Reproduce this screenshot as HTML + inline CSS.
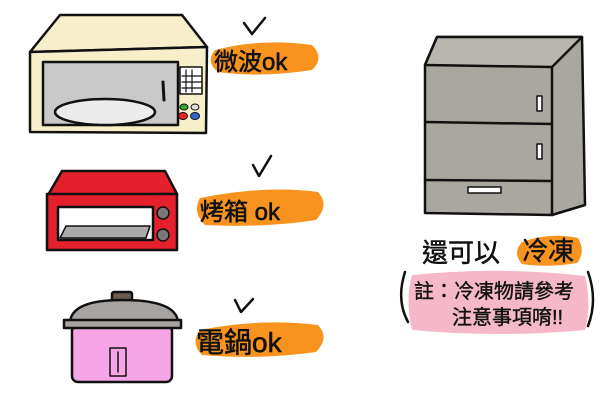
<!DOCTYPE html>
<html><head><meta charset="utf-8"><style>
html,body{margin:0;padding:0;background:#fff;width:600px;height:400px;overflow:hidden}
svg{display:block}
text{font-family:"Liberation Sans","Noto Sans CJK TC",sans-serif;fill:#111}
</style></head><body>
<svg width="600" height="400" viewBox="0 0 600 400" stroke="#111" stroke-width="2.5" stroke-linejoin="round" stroke-linecap="round">
<!-- microwave -->
<polygon points="30,52 60,15 182,15 207,47" fill="#f7efc9"/>
<polygon points="30,52 207,47 206,133 30,132" fill="#f7efc9"/>
<rect x="43" y="62" width="135" height="63" fill="#c9c9c9"/>
<ellipse cx="105" cy="112" rx="50" ry="13" fill="#ececec"/>
<line x1="163" y1="82" x2="164" y2="100" stroke-width="3"/>
<rect x="180" y="67" width="22" height="27" fill="#fff" stroke-width="1.5"/>
<path d="M186,70V92M192,70V92M182,76H201M182,82H201M182,88H201" stroke-width="1.2" fill="none"/>
<ellipse cx="184" cy="107" rx="4" ry="3" fill="#3a3" stroke-width="1"/>
<ellipse cx="195" cy="107" rx="4" ry="3" fill="#ddd" stroke-width="1"/>
<ellipse cx="183" cy="116" rx="4.5" ry="3.5" fill="#e22" stroke-width="1"/>
<ellipse cx="195" cy="116" rx="4.5" ry="3.5" fill="#36c" stroke-width="1"/>
<!-- label 1 -->
<path d="M215,50 Q260,38 312,45 Q325,58 312,70 Q260,78 218,72 Q205,62 215,50Z" fill="#f7931e" stroke="none"/>
<path d="M244,23 L252,34 L265,18" fill="none"/>
<text x="214" y="70" font-size="24" stroke="#111" stroke-width="0.6">微波ok</text>
<!-- toaster -->
<polygon points="48,195 62,171 165,171 177,194" fill="#e4202c"/>
<rect x="47" y="194" width="130" height="56" fill="#e4202c"/>
<rect x="58" y="207" width="95" height="33" fill="#fff"/>
<polygon points="60,238 66,226 150,226 146,238" fill="#aaa" stroke-width="1.5"/>
<circle cx="163" cy="213" r="6" fill="#777" stroke-width="1.5"/>
<circle cx="163" cy="235" r="6" fill="#777" stroke-width="1.5"/>
<!-- label 2 -->
<path d="M200,198 Q265,185 318,192 Q330,205 316,220 Q265,228 205,225 Q192,212 200,198Z" fill="#f7931e" stroke="none"/>
<path d="M253,165 L259,176 L271,156" fill="none"/>
<text x="200" y="220" font-size="24" stroke="#111" stroke-width="0.6">烤箱 ok</text>
<!-- rice cooker -->
<rect x="112" y="292" width="20" height="12" rx="2" fill="#6b5a50"/>
<rect x="72" y="325" width="100" height="57" rx="6" fill="#f6a6e6"/>
<path d="M70,322 Q72,300 122,300 Q176,300 178,322Z" fill="#a6a3a0"/>
<rect x="64" y="320" width="117" height="8" fill="#a6a3a0"/>
<rect x="110" y="348" width="16" height="28" fill="#f6a6e6" stroke-width="1.5"/>
<path d="M118,352V372" stroke-width="1.5"/>
<!-- label 3 -->
<path d="M200,330 Q260,318 318,325 Q330,338 316,352 Q260,360 202,355 Q190,343 200,330Z" fill="#f7931e" stroke="none"/>
<path d="M235,300 L241,312 L253,299" fill="none"/>
<text x="196" y="352" font-size="28" stroke="#111" stroke-width="0.6">電鍋ok</text>
<!-- fridge -->
<polygon points="437,37 582,37 585,205 552,215 425,213 425,65" fill="#a9a79f"/>
<polygon points="437,37 582,37 552,67 425,65" fill="#b8b6ae"/>
<path d="M552,67 L552,215 M425,122 L552,124 M425,180 L552,181" fill="none"/>
<rect x="537" y="96" width="5" height="15" fill="#fff" stroke-width="1.5"/>
<rect x="537" y="144" width="5" height="15" fill="#fff" stroke-width="1.5"/>
<rect x="468" y="187" width="33" height="6" fill="#fff" stroke-width="1.5"/>
<!-- fridge text -->
<path d="M522,242 Q550,232 578,238 Q586,252 577,263 Q548,268 522,264 Q512,253 522,242Z" fill="#f7931e" stroke="none"/>
<text x="422" y="262" font-size="26" stroke="#111" stroke-width="0.5">還可以</text>
<text x="522" y="260" font-size="26" stroke="#111" stroke-width="0.5">冷凍</text>
<path d="M412,275 Q500,266 585,276 Q592,305 585,330 Q500,338 412,330 Q405,300 412,275Z" fill="#f5b8c8" stroke="none"/>
<path d="M405,272 Q396,300 408,322 M588,272 Q598,300 588,326" fill="none"/>
<text x="414" y="298" font-size="20" stroke="#111" stroke-width="0.4">註：冷凍物請參考</text>
<text x="452" y="324" font-size="20" stroke="#111" stroke-width="0.4">注意事項唷!!</text>
</svg>
</body></html>
